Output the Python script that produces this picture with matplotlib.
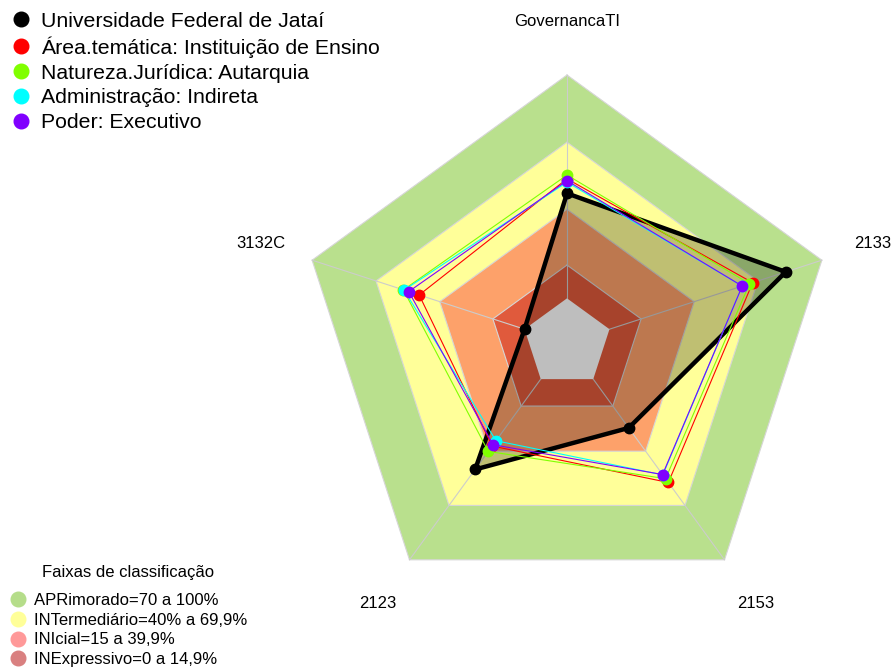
import matplotlib.pyplot as plt
import numpy as np
from matplotlib.lines import Line2D

plt.rcParams["font.family"] = ["Liberation Sans", "DejaVu Sans"]

# eixos do radar (sentido horario a partir do topo)
EIXOS = ["GovernancaTI", "2133", "2153", "2123", "3132C"]
ANGULOS = [90, 18, -54, -126, 162]

SERIES = [
    "Universidade Federal de Jataí",
    "Área.temática: Instituição de Ensino",
    "Natureza.Jurídica: Autarquia",
    "Administração: Indireta",
    "Poder: Executivo",
]
universidade = [0.47, 0.83, 0.27, 0.50, 0.00]
area_tematica = [0.535, 0.674, 0.572, 0.37, 0.496]
natureza = [0.552, 0.659, 0.551, 0.40, 0.57]
administracao = [0.52, 0.625, 0.53, 0.341, 0.567]
poder = [0.527, 0.625, 0.528, 0.363, 0.545]
CORES = ["black", "#ff0000", "#80ff00", "#00ffff", "#8000ff"]

# faixas de classificacao
FAIXAS = ["APRimorado=70 a 100%", "INTermediário=40% a 69,9%",
          "INIcial=15 a 39,9%", "INExpressivo=0 a 14,9%"]
FAIXA_LIM = [1.0, 0.699, 0.399, 0.149]
FAIXA_COR = ["#b9e08d", "#ffff99", "#fda16a", "#e05a3c"]
FAIXA_LEG = ["#b5dd8a", "#ffff99", "#ff9999", "#d98080"]

W, H = 893, 668
CX, CY, R = 567, 343, 268  # centro e raio em pixels


def raio(v):
    return (1 + 5 * np.asarray(v)) / 6


def xy(vals):
    th = np.deg2rad(ANGULOS)
    r = raio(vals)
    return r * np.cos(th), r * np.sin(th)


fig = plt.figure(figsize=(W / 100, H / 100), dpi=100)
ax = fig.add_axes([0, 0, 1, 1])
ax.set_xlim(-CX / R, (W - CX) / R)
ax.set_ylim(-(H - CY) / R, CY / R)
ax.axis("off")

# faixas
for lim, cor in zip(FAIXA_LIM, FAIXA_COR):
    x, y = xy([lim] * 5)
    ax.fill(x, y, color=cor, zorder=1, lw=0)
    ax.plot(np.r_[x, x[0]], np.r_[y, y[0]], color="#d6d6d6", lw=0.8, zorder=2)

# eixos
th = np.deg2rad(ANGULOS)
for t in th:
    ax.plot([raio(0) * np.cos(t), np.cos(t)], [raio(0) * np.sin(t), np.sin(t)],
            color="#cccccc", lw=0.8, zorder=2)

# preenchimento da universidade
x, y = xy(universidade)
ax.fill(x, y, color="black", alpha=0.25, lw=0, zorder=3)

# centro cinza
x, y = xy([0] * 5)
ax.fill(x, y, color="#bebebe", lw=0, zorder=4)

dados = [universidade, area_tematica, natureza, administracao, poder]
for i, (vals, cor) in enumerate(zip(dados, CORES)):
    x, y = xy(vals)
    lw = 3.2 if i == 0 else 0.8
    ax.plot(np.r_[x, x[0]], np.r_[y, y[0]], color=cor, lw=lw, zorder=5 + i)
    ax.plot(x, y, "o", color=cor, ms=7.5, zorder=5 + i)

for nome, t in zip(EIXOS, th):
    ax.text(1.2 * np.cos(t), 1.2 * np.sin(t), nome, ha="center", va="center",
            fontsize=12)

# legenda das series
h1 = [Line2D([], [], ls="none", marker="o", ms=10.5, color=c) for c in CORES]
fig.legend(h1, SERIES, loc="upper left", bbox_to_anchor=(-0.003, 1.005),
           frameon=False, fontsize=15.3, handlelength=0.8, handletextpad=0.55,
           labelspacing=0.27, borderaxespad=0.3)

# legenda das faixas
fig.text(128 / W, 1 - 573 / H, "Faixas de classificação", ha="center",
         va="center", fontsize=12)
h2 = [Line2D([], [], ls="none", marker="o", ms=10.5, color=c) for c in FAIXA_LEG]
fig.legend(h2, FAIXAS, loc="lower left", bbox_to_anchor=(0.0, -0.016),
           frameon=False, fontsize=12, handlelength=0.8, handletextpad=0.55,
           labelspacing=0.28, borderaxespad=0.3)

fig.savefig("out.png", dpi=100)
